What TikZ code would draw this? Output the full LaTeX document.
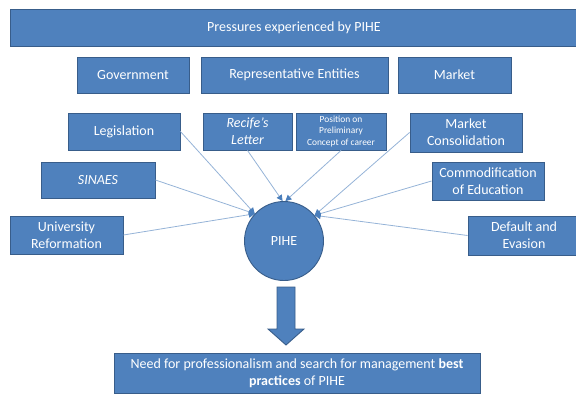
\documentclass[tikz,border=0pt]{standalone}
\usepackage{fontspec}
\setmainfont{Carlito}
\usetikzlibrary{arrows.meta}
\definecolor{boxfill}{HTML}{4F81BD}
\definecolor{boxline}{HTML}{385D8A}
\definecolor{linkline}{HTML}{95B3D7}
\definecolor{linktip}{HTML}{4A7EBB}
\begin{document}
\begin{tikzpicture}[x=1pt,y=-1pt,
  blockbox/.style={draw=boxline,fill=boxfill,line width=0.9pt,text=white,
    inner sep=0pt,align=center,font=\fontsize{14}{16.8}\selectfont},
  smalltext/.style={font=\fontsize{9.4}{11.5}\selectfont},
  link/.style={draw=linkline,line width=0.8pt,
    -{Triangle[length=6pt,width=6pt,color=linktip]}}]
\useasboundingbox (0,0) rectangle (576,394);

% header and the three sources of pressure
\node[blockbox,minimum width=568pt,minimum height=37pt] (title) at (294,27.5) {Pressures experienced by PIHE};
\node[blockbox,minimum width=112pt,minimum height=36pt] (gov) at (133,75) {Government};
\node[blockbox,minimum width=187pt,minimum height=36pt] (rep) at (294.5,75) {Representative Entities};
\node[blockbox,minimum width=113pt,minimum height=36pt] (mkt) at (454.5,75) {Market};

% individual pressures
\node[blockbox,minimum width=112pt,minimum height=37pt] (leg) at (124,131.5) {Legislation};
\node[blockbox,minimum width=89pt,minimum height=37pt] (rec) at (247.5,131.5) {\itshape Recife’s\\\itshape Letter};
\node[blockbox,smalltext,minimum width=90pt,minimum height=37pt] (pos) at (341,131.5) {Position on\\Preliminary\\Concept of career};
\node[blockbox,minimum width=112pt,minimum height=39pt] (mcon) at (466,132.5) {Market\\Consolidation};
\node[blockbox,minimum width=114pt,minimum height=36pt] (sin) at (98,180) {\itshape SINAES};
\node[blockbox,minimum width=112pt,minimum height=38pt] (com) at (488,181) {Commodification\\of Education};
\node[blockbox,minimum width=113pt,minimum height=38pt] (uni) at (66.5,235) {University\\Reformation};
\node[blockbox,minimum width=112pt,minimum height=39pt] (def) at (524,235.5) {Default and\\Evasion};

% the institution
\node[blockbox,circle,minimum size=79pt] (pihe) at (284,241) {PIHE};

% outcome
\node[blockbox,minimum width=366pt,minimum height=40pt] (best) at (297,373)
  {Need for professionalism and search for management \textbf{best}\\\textbf{practices} of PIHE};

% pressures acting on the institution
\draw[link] (leg.east) -- (pihe.137);
\draw[link] (sin.east) -- (pihe.137);
\draw[link] (uni.east) -- (pihe.137);
\draw[link] (rec.south) -- (pihe.92);
\draw[link] (pos.south) -- (pihe.88);
\draw[link] (mcon.west) -- (pihe.40);
\draw[link] (com.west) -- (pihe.40);
\draw[link] (def.west) -- (pihe.40);

% block arrow leading to the outcome
\coordinate (shafttop) at (286,287);
\draw[draw=boxline,fill=boxfill,line width=0.9pt]
  ([xshift=-9pt]shafttop) -- ([xshift=9pt]shafttop)
  -- ++(0,42) -- ++(9,0) -- (286,345) -- (268,329) -- ++(9,0) -- cycle;
\end{tikzpicture}
\end{document}
